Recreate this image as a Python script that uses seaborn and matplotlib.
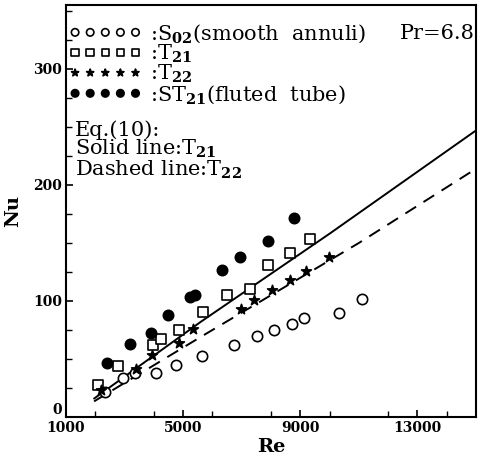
import matplotlib
matplotlib.use("Agg")
import matplotlib.pyplot as plt
import matplotlib.transforms as mtransforms
from matplotlib.ticker import MultipleLocator
import seaborn as sns

# values
re_s02 = [2330, 2960, 3350, 4060, 4770, 5630, 6730, 7520, 8110, 8730, 9130, 10330, 11110]
nu_s02 = [21.6, 34, 37.9, 38.3, 44.6, 52.6, 61.8, 69.8, 74.7, 80.5, 85.3, 90, 101.5]

re_t21 = [2110, 2780, 3980, 4250, 4850, 5680, 6500, 7290, 7910, 8650, 9330]
nu_t21 = [27.3, 43.7, 61.8, 67.6, 74.7, 90.5, 105.5, 110.7, 131.4, 141.4, 153.8]

re_t22 = [2190, 3380, 3950, 4850, 5330, 6980, 7430, 8030, 8650, 9200, 9990]
nu_t22 = [23.6, 41.7, 53.2, 63.8, 76.2, 93.4, 100.6, 109.2, 117.8, 125.9, 138]

re_st21 = [2400, 3190, 3910, 4480, 5230, 5420, 6330, 6950, 7910, 8770]
nu_st21 = [46.5, 63.3, 72.4, 87.7, 103.4, 105.5, 126.5, 138, 151.5, 171.9]

# Eq.(10) curves
re_eq_t21 = [1960, 5600, 10000, 15000]
nu_eq_t21 = [15.9, 82, 158, 247]
re_eq_t22 = [1960, 5600, 11000, 15000]
nu_eq_t22 = [13.5, 69, 150, 214]

sns.set_style("ticks")
plt.rcParams["font.family"] = ["DejaVu Serif"]
plt.rcParams["mathtext.fontset"] = "dejavuserif"
for key in ["text.color", "axes.labelcolor", "xtick.color", "ytick.color", "axes.edgecolor"]:
    plt.rcParams[key] = "black"

fig = plt.figure(figsize=(4.78, 4.59), dpi=100)
ax = fig.add_axes([0.138, 0.0915, 0.858, 0.8975])

mk = dict(s=55, linewidth=1.2, ax=ax, zorder=3)
sns.scatterplot(x=re_s02, y=nu_s02, marker="o", facecolor="white", edgecolor="black",
                label=r":S$_{\mathbf{02}}$(smooth  annuli)", **mk)
sns.scatterplot(x=re_t21, y=nu_t21, marker="s", facecolor="white", edgecolor="black",
                label=r":T$_{\mathbf{21}}$", **mk)
sns.scatterplot(x=re_t22, y=nu_t22, marker="*", color="black", edgecolor="black",
                label=r":T$_{\mathbf{22}}$", **mk)
sns.scatterplot(x=re_st21, y=nu_st21, marker="o", color="black", edgecolor="black",
                label=r":ST$_{\mathbf{21}}$(fluted  tube)", **mk)

sns.lineplot(x=re_eq_t21, y=nu_eq_t21, color="black", linewidth=1.4, ax=ax)
sns.lineplot(x=re_eq_t22, y=nu_eq_t22, color="black", linewidth=1.4, ax=ax,
             linestyle=(0, (6.5, 4.5)))

ax.set_xlim(1000, 15000)
ax.set_ylim(0, 355)
ax.set_xticks([1000, 5000, 9000, 13000])
ax.set_yticks([0, 100, 200, 300])
ax.xaxis.set_minor_locator(MultipleLocator(2000))
ax.yaxis.set_minor_locator(MultipleLocator(25))
ax.tick_params(which="major", direction="in", length=5, width=1.2,
               labelsize=10, pad=3)
ax.tick_params(which="minor", direction="in", length=4, width=1.0)
for lab in ax.get_xticklabels() + ax.get_yticklabels():
    lab.set_fontweight("bold")
# the "0" sits a little above the corner, as in the original
zero = ax.get_yticklabels()[0]
zero.set_transform(zero.get_transform() +
                   mtransforms.ScaledTranslation(0, 6 / 72, fig.dpi_scale_trans))
for sp in ax.spines.values():
    sp.set_linewidth(1.5)

ax.set_xlabel("Re", fontsize=14, fontweight="bold", labelpad=2)
ax.set_ylabel("Nu", fontsize=14, fontweight="bold", labelpad=8)

leg = ax.legend(loc="upper left", bbox_to_anchor=(0.007, 0.958), frameon=False,
                scatterpoints=5, scatteryoffsets=[0.5], markerscale=0.72,
                handlelength=3.5, handletextpad=0.4, labelspacing=-0.1,
                borderaxespad=0.0, borderpad=0.0, fontsize=15)

ax.text(0.997, 0.932, "Pr=6.8", transform=ax.transAxes, ha="right", va="center",
        fontsize=15)
ax.text(0.022, 0.721, "Eq.(10):\nSolid line:T$_{\\mathbf{21}}$\nDashed line:T$_{\\mathbf{22}}$",
        transform=ax.transAxes, ha="left", va="top", fontsize=15, linespacing=0.9)

fig.savefig("out.png", dpi=100)
